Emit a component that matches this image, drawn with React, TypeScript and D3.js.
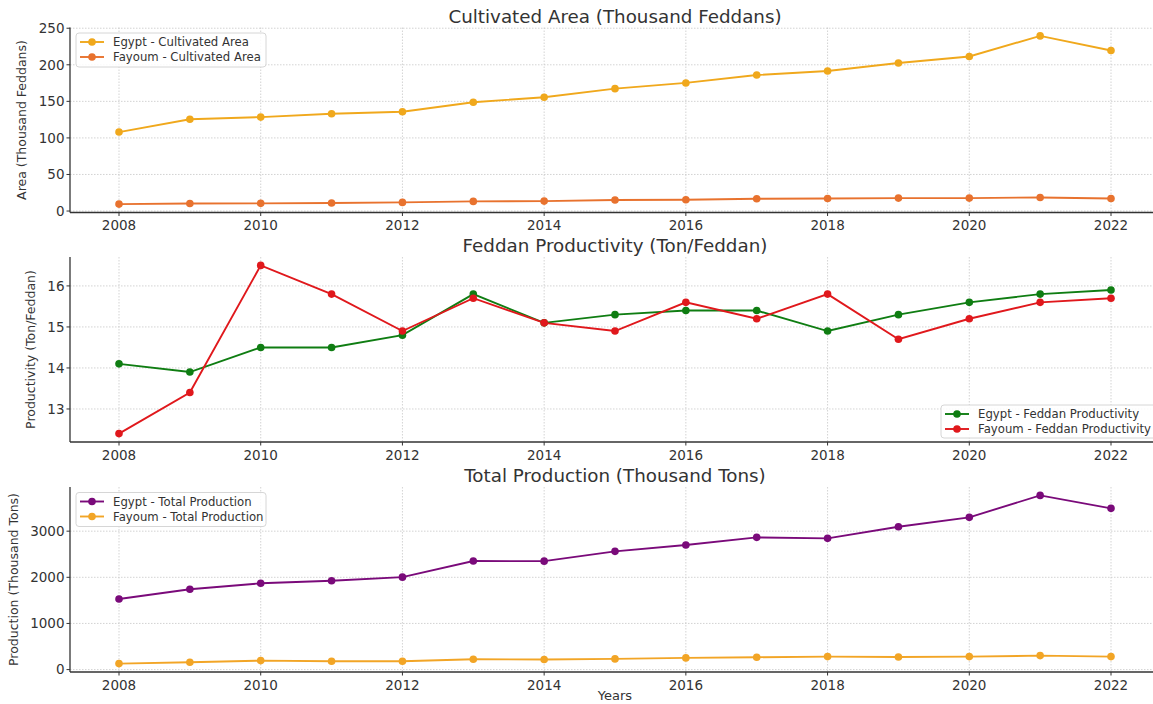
import React from "react";
import * as d3 from "d3";

const years = [2008, 2009, 2010, 2011, 2012, 2013, 2014, 2015, 2016, 2017, 2018, 2019, 2020, 2021, 2022];

const egyptArea = [108, 125.5, 128.5, 133, 135.7, 148.8, 155.6, 167.4, 175.2, 186, 191.5, 202.4, 211.4, 239.5, 219.5];
const fayoumArea = [9.5, 10.4, 10.5, 10.9, 11.8, 13.2, 13.6, 15, 15.4, 16.8, 17.2, 17.7, 17.7, 18.6, 17.2];

const egyptProd = [14.1, 13.9, 14.5, 14.5, 14.8, 15.8, 15.1, 15.3, 15.4, 15.4, 14.9, 15.3, 15.6, 15.8, 15.9];
const fayoumProd = [12.4, 13.4, 16.5, 15.8, 14.9, 15.7, 15.1, 14.9, 15.6, 15.2, 15.8, 14.7, 15.2, 15.6, 15.7];

const egyptTotal = [1530, 1740, 1870, 1926, 2003, 2352, 2350, 2563, 2700, 2866, 2844, 3095, 3300, 3775, 3494];
const fayoumTotal = [130, 160, 195, 182, 182, 225, 218, 232, 253, 268, 281, 274, 281, 303, 281];

const xTicks = [2008, 2010, 2012, 2014, 2016, 2018, 2020, 2022];
const areaTicks = [0, 50, 100, 150, 200, 250];
const prodTicks = [13, 14, 15, 16];
const totalTicks = [0, 1000, 2000, 3000];

const titles = [
  "Cultivated Area (Thousand Feddans)",
  "Feddan Productivity (Ton/Feddan)",
  "Total Production (Thousand Tons)",
];
const yLabels = ["Area (Thousand Feddans)", "Productivity (Ton/Feddan)", "Production (Thousand Tons)"];
const legendNames = [
  ["Egypt - Cultivated Area", "Fayoum - Cultivated Area"],
  ["Egypt - Feddan Productivity", "Fayoum - Feddan Productivity"],
  ["Egypt - Total Production", "Fayoum - Total Production"],
];

const FONT = "'DejaVu Sans', sans-serif";
const TXT = "#333333";

type Panel = {
  top: number;
  series: number[][];
  colors: string[];
  ticks: number[];
  title: string;
  ylabel: string;
  names: string[];
  legend: "ul" | "lr";
};

const panels: Panel[] = [
  { top: 27.5, series: [egyptArea, fayoumArea], colors: ["#F0A81C", "#E8722E"], ticks: areaTicks, title: titles[0], ylabel: yLabels[0], names: legendNames[0], legend: "ul" },
  { top: 257, series: [egyptProd, fayoumProd], colors: ["#0F7D12", "#E0181C"], ticks: prodTicks, title: titles[1], ylabel: yLabels[1], names: legendNames[1], legend: "lr" },
  { top: 487, series: [egyptTotal, fayoumTotal], colors: ["#7A0A7A", "#F2A526"], ticks: totalTicks, title: titles[2], ylabel: yLabels[2], names: legendNames[2], legend: "ul" },
];

const H = 185;
const LEFT = 70;

const x = d3.scaleLinear().domain([2007.3, 2022.7]).range([69.4, 1160.6]);

function PanelView({ p }: { p: Panel }) {
  const all = p.series.flat();
  const [mn, mx] = d3.extent(all) as [number, number];
  const pad = (mx - mn) * 0.05;
  const y = d3.scaleLinear().domain([mn - pad, mx + pad]).range([p.top + H, p.top]);
  const bottom = p.top + H;
  const right = 1160.6;
  const line = d3
    .line<number>()
    .x((_, i) => x(years[i]))
    .y((d) => y(d));
  const maxLabelChars = d3.max(p.ticks, (t) => String(t).length) as number;
  const labelX = 63 - maxLabelChars * 8.6 - 11;

  const lg = p.legend === "ul" ? { x: 76, y: p.top + 5.5, w: 190, h: 34 } : { x: 941, y: p.top + 148, w: 215, h: 33 };

  return (
    <g>
      {xTicks.map((t) => (
        <line key={"gx" + t} x1={x(t)} x2={x(t)} y1={p.top} y2={bottom} stroke="#c8c8c8" strokeWidth={0.8} strokeDasharray="1.5,1.5" />
      ))}
      {p.ticks.map((t) => (
        <line key={"gy" + t} x1={LEFT} x2={right} y1={y(t)} y2={y(t)} stroke="#c8c8c8" strokeWidth={0.8} strokeDasharray="1.5,1.5" />
      ))}
      {p.series.map((s, k) => (
        <g key={"s" + k}>
          <path d={line(s) || ""} fill="none" stroke={p.colors[k]} strokeWidth={1.9} />
          {s.map((v, i) => (
            <circle key={i} cx={x(years[i])} cy={y(v)} r={3.8} fill={p.colors[k]} />
          ))}
        </g>
      ))}
      <line x1={LEFT} x2={LEFT} y1={p.top} y2={bottom} stroke="#333" strokeWidth={1.3} />
      <line x1={LEFT} x2={right} y1={bottom} y2={bottom} stroke="#333" strokeWidth={1.3} />
      {xTicks.map((t) => (
        <g key={"xt" + t}>
          <line x1={x(t)} x2={x(t)} y1={bottom} y2={bottom + 3.5} stroke="#333" strokeWidth={1} />
          <text x={x(t)} y={bottom + 17.5} textAnchor="middle" fontFamily={FONT} fontSize={13.5} fill={TXT}>
            {t}
          </text>
        </g>
      ))}
      {p.ticks.map((t) => (
        <g key={"yt" + t}>
          <line x1={LEFT - 3.5} x2={LEFT} y1={y(t)} y2={y(t)} stroke="#333" strokeWidth={1} />
          <text x={LEFT - 5.5} y={y(t) + 4.9} textAnchor="end" fontFamily={FONT} fontSize={13.5} fill={TXT}>
            {t}
          </text>
        </g>
      ))}
      <text
        transform={`translate(${labelX},${p.top + H / 2}) rotate(-90)`}
        textAnchor="middle"
        fontFamily={FONT}
        fontSize={12.5}
        fill={TXT}
      >
        {p.ylabel}
      </text>
      <text x={615} y={p.top - 5} textAnchor="middle" fontFamily={FONT} fontSize={18.3} fill={TXT}>
        {p.title}
      </text>
      <rect x={lg.x} y={lg.y} width={lg.w} height={lg.h} rx={3} fill="#ffffff" fillOpacity={0.85} stroke="#d6d6d6" strokeWidth={1} />
      {p.names.map((n, k) => {
        const cy = lg.y + 9 + k * 15;
        return (
          <g key={"lg" + k}>
            <line x1={lg.x + 4} x2={lg.x + 28} y1={cy} y2={cy} stroke={p.colors[k]} strokeWidth={1.9} />
            <circle cx={lg.x + 16} cy={cy} r={3.8} fill={p.colors[k]} />
            <text x={lg.x + 37} y={cy + 4} fontFamily={FONT} fontSize={11.7} fill={TXT}>
              {n}
            </text>
          </g>
        );
      })}
    </g>
  );
}

export default function App() {
  return (
    <svg width={1153} height={704} style={{ position: "absolute", left: 0, top: 0, background: "#fff" }}>
      <rect width={1153} height={704} fill="#fff" />
      {panels.map((p, i) => (
        <PanelView key={i} p={p} />
      ))}
      <text x={615} y={700} textAnchor="middle" fontFamily={FONT} fontSize={13} fill={TXT}>
        Years
      </text>
    </svg>
  );
}
